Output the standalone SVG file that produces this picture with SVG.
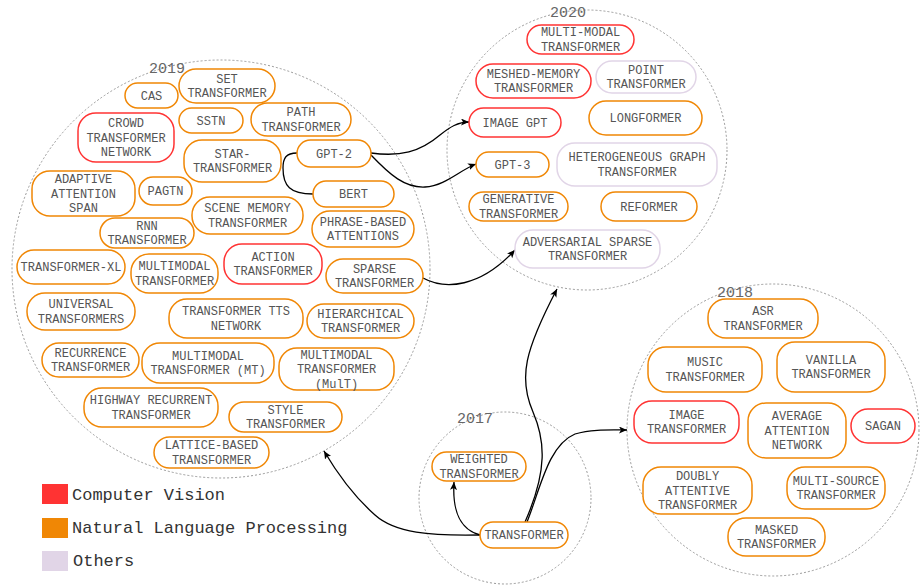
<svg xmlns="http://www.w3.org/2000/svg" width="923" height="585" viewBox="0 0 923 585">
<style>
.ring{fill:none;stroke:#9a9a9a;stroke-width:1;stroke-dasharray:2 2}
.yr{font-family:"Liberation Mono","DejaVu Sans Mono",monospace;font-size:15px;fill:#666}
.n rect{fill:#fff;stroke-width:1.5}
.o rect{stroke:#f08705}
.r rect{stroke:#ff3333}
.p rect{stroke:#e1d5e7}
.n text{font-family:"Liberation Mono","DejaVu Sans Mono",monospace;font-size:12px;fill:#555;text-anchor:middle}
.lg{font-family:"Liberation Mono","DejaVu Sans Mono",monospace;font-size:17px;fill:#333}
.e{fill:none;stroke:#000;stroke-width:1.3}
</style>
<defs>
<marker id="ah" markerUnits="userSpaceOnUse" markerWidth="9" markerHeight="8" refX="8" refY="3.5" orient="auto">
<path d="M0,0 L8,3.5 L0,7 L2,3.5 z" fill="#000"/>
</marker>
</defs>
<g id="years">
<circle class="ring" cx="221" cy="269" r="209"/>
<circle class="ring" cx="587" cy="150" r="140"/>
<circle class="ring" cx="773" cy="430" r="146"/>
<circle class="ring" cx="505" cy="498" r="86"/>
<text class="yr" x="149" y="73">2019</text>
<text class="yr" x="550" y="17">2020</text>
<text class="yr" x="717" y="297">2018</text>
<text class="yr" x="457" y="423">2017</text>
</g>
<g id="connectors">
<path class="e" d="M297,153 C286,153 283,158 283,168 C283,186 290,194 313,194"/>
<path class="e" d="M371,153 C400,157 420,152 440,135 C450,127 458,122 469,122" marker-end="url(#ah)"/>
<path class="e" d="M371,155 C390,175 405,188 425,187 C445,186 460,170 476,164" marker-end="url(#ah)"/>
<path class="e" d="M423,278 C445,290 480,288 515,250" marker-end="url(#ah)"/>
<path class="e" d="M480,535 C430,536 395,533 375,515 C358,500 340,478 324,451" marker-end="url(#ah)"/>
<path class="e" d="M480,535 C462,530 452,515 454,482" marker-end="url(#ah)"/>
<path class="e" d="M525,522 C548,470 545,440 533,412 C518,378 525,350 557,289" marker-end="url(#ah)"/>
<path class="e" d="M527,522 C540,490 548,445 575,434 C592,429 610,430 627,430" marker-end="url(#ah)"/>
</g>
<g id="set" class="n o"><rect x="179" y="69" width="96" height="34" rx="17"/><text x="227" y="82.75">SET</text><text x="227" y="97.25">TRANSFORMER</text></g>
<g id="cas" class="n o"><rect x="125" y="83" width="53" height="25" rx="12.5"/><text x="151.5" y="99.5">CAS</text></g>
<g id="sstn" class="n o"><rect x="179" y="108" width="64" height="25" rx="12.5"/><text x="211" y="124.5">SSTN</text></g>
<g id="path" class="n o"><rect x="251" y="103" width="100" height="33" rx="16.5"/><text x="301" y="116.25">PATH</text><text x="301" y="130.75">TRANSFORMER</text></g>
<g id="crowd" class="n r"><rect x="78" y="113" width="96" height="49" rx="18"/><text x="126" y="127">CROWD</text><text x="126" y="141.5">TRANSFORMER</text><text x="126" y="156">NETWORK</text></g>
<g id="star" class="n o"><rect x="184" y="140" width="97" height="42" rx="18"/><text x="232.5" y="157.75">STAR-</text><text x="232.5" y="172.25">TRANSFORMER</text></g>
<g id="gpt2" class="n o"><rect x="297" y="140" width="74" height="27" rx="13.5"/><text x="334" y="157.5">GPT-2</text></g>
<g id="bert" class="n o"><rect x="313" y="181" width="81" height="26" rx="13"/><text x="353.5" y="198">BERT</text></g>
<g id="adaptive" class="n o"><rect x="32" y="171" width="103" height="45" rx="18"/><text x="83.5" y="183">ADAPTIVE</text><text x="83.5" y="197.5">ATTENTION</text><text x="83.5" y="212">SPAN</text></g>
<g id="pagtn" class="n o"><rect x="139" y="177" width="53" height="28" rx="14"/><text x="165.5" y="195">PAGTN</text></g>
<g id="scene" class="n o"><rect x="192" y="197" width="111" height="37" rx="18"/><text x="247.5" y="212.25">SCENE MEMORY</text><text x="247.5" y="226.75">TRANSFORMER</text></g>
<g id="phrase" class="n o"><rect x="312" y="211" width="102" height="36" rx="18"/><text x="363" y="225.75">PHRASE-BASED</text><text x="363" y="240.25">ATTENTIONS</text></g>
<g id="rnn" class="n o"><rect x="100" y="218" width="94" height="30" rx="15"/><text x="147" y="229.75">RNN</text><text x="147" y="244.25">TRANSFORMER</text></g>
<g id="action" class="n r"><rect x="224" y="244" width="98" height="40" rx="18"/><text x="273" y="260.75">ACTION</text><text x="273" y="275.25">TRANSFORMER</text></g>
<g id="txl" class="n o"><rect x="17" y="250" width="108" height="34" rx="17"/><text x="71" y="271">TRANSFORMER-XL</text></g>
<g id="multimodal" class="n o"><rect x="131" y="254" width="87" height="39" rx="18"/><text x="174.5" y="270.25">MULTIMODAL</text><text x="174.5" y="284.75">TRANSFORMER</text></g>
<g id="sparse" class="n o"><rect x="326" y="259" width="97" height="34" rx="17"/><text x="374.5" y="272.75">SPARSE</text><text x="374.5" y="287.25">TRANSFORMER</text></g>
<g id="universal" class="n o"><rect x="27" y="293" width="108" height="37" rx="18"/><text x="81" y="308.25">UNIVERSAL</text><text x="81" y="322.75">TRANSFORMERS</text></g>
<g id="tts" class="n o"><rect x="169" y="299" width="134" height="39" rx="18"/><text x="236" y="315.25">TRANSFORMER TTS</text><text x="236" y="329.75">NETWORK</text></g>
<g id="hier" class="n o"><rect x="307" y="304" width="107" height="34" rx="17"/><text x="360.5" y="317.75">HIERARCHICAL</text><text x="360.5" y="332.25">TRANSFORMER</text></g>
<g id="recurrence" class="n o"><rect x="42" y="343" width="97" height="34" rx="17"/><text x="90.5" y="356.75">RECURRENCE</text><text x="90.5" y="371.25">TRANSFORMER</text></g>
<g id="mt" class="n o"><rect x="142" y="343" width="132" height="40" rx="18"/><text x="208" y="359.75">MULTIMODAL</text><text x="208" y="374.25">TRANSFORMER (MT)</text></g>
<g id="mult" class="n o"><rect x="279" y="348" width="115" height="42" rx="18"/><text x="336.5" y="358.5">MULTIMODAL</text><text x="336.5" y="373">TRANSFORMER</text><text x="336.5" y="387.5">(MulT)</text></g>
<g id="highway" class="n o"><rect x="84" y="388" width="134" height="39" rx="18"/><text x="151" y="404.25">HIGHWAY RECURRENT</text><text x="151" y="418.75">TRANSFORMER</text></g>
<g id="style" class="n o"><rect x="229" y="402" width="113" height="30" rx="15"/><text x="285.5" y="413.75">STYLE</text><text x="285.5" y="428.25">TRANSFORMER</text></g>
<g id="lattice" class="n o"><rect x="154" y="437" width="115" height="31" rx="15.5"/><text x="211.5" y="449.25">LATTICE-BASED</text><text x="211.5" y="463.75">TRANSFORMER</text></g>
<g id="mm2020" class="n r"><rect x="527" y="25" width="107" height="29" rx="14.5"/><text x="580.5" y="36.25">MULTI-MODAL</text><text x="580.5" y="50.75">TRANSFORMER</text></g>
<g id="meshed" class="n r"><rect x="476" y="64" width="115" height="34" rx="17"/><text x="533.5" y="77.75">MESHED-MEMORY</text><text x="533.5" y="92.25">TRANSFORMER</text></g>
<g id="point" class="n p"><rect x="596" y="61" width="100" height="32" rx="16"/><text x="646" y="73.75">POINT</text><text x="646" y="88.25">TRANSFORMER</text></g>
<g id="imagegpt" class="n r"><rect x="469" y="108" width="92" height="29" rx="14.5"/><text x="515" y="126.5">IMAGE GPT</text></g>
<g id="longformer" class="n o"><rect x="589" y="101" width="113" height="34" rx="17"/><text x="645.5" y="122">LONGFORMER</text></g>
<g id="gpt3" class="n o"><rect x="476" y="152" width="73" height="25" rx="12.5"/><text x="512.5" y="168.5">GPT-3</text></g>
<g id="hetero" class="n p"><rect x="557" y="143" width="160" height="43" rx="18"/><text x="637" y="161.25">HETEROGENEOUS GRAPH</text><text x="637" y="175.75">TRANSFORMER</text></g>
<g id="generative" class="n o"><rect x="469" y="192" width="99" height="29" rx="14.5"/><text x="518.5" y="203.25">GENERATIVE</text><text x="518.5" y="217.75">TRANSFORMER</text></g>
<g id="reformer" class="n o"><rect x="601" y="192" width="96" height="29" rx="14.5"/><text x="649" y="210.5">REFORMER</text></g>
<g id="adversarial" class="n p"><rect x="515" y="230" width="145" height="38" rx="18"/><text x="587.5" y="245.75">ADVERSARIAL SPARSE</text><text x="587.5" y="260.25">TRANSFORMER</text></g>
<g id="asr" class="n o"><rect x="708" y="299" width="110" height="39" rx="18"/><text x="763" y="315.25">ASR</text><text x="763" y="329.75">TRANSFORMER</text></g>
<g id="music" class="n o"><rect x="648" y="347" width="114" height="45" rx="18"/><text x="705" y="366.25">MUSIC</text><text x="705" y="380.75">TRANSFORMER</text></g>
<g id="vanilla" class="n o"><rect x="777" y="342" width="108" height="50" rx="18"/><text x="831" y="363.75">VANILLA</text><text x="831" y="378.25">TRANSFORMER</text></g>
<g id="image" class="n r"><rect x="634" y="401" width="105" height="42" rx="18"/><text x="686.5" y="418.75">IMAGE</text><text x="686.5" y="433.25">TRANSFORMER</text></g>
<g id="average" class="n o"><rect x="748" y="403" width="98" height="55" rx="18"/><text x="797" y="420">AVERAGE</text><text x="797" y="434.5">ATTENTION</text><text x="797" y="449">NETWORK</text></g>
<g id="sagan" class="n r"><rect x="851" y="409" width="64" height="34" rx="17"/><text x="883" y="430">SAGAN</text></g>
<g id="doubly" class="n o"><rect x="643" y="467" width="109" height="47" rx="18"/><text x="697.5" y="480">DOUBLY</text><text x="697.5" y="494.5">ATTENTIVE</text><text x="697.5" y="509">TRANSFORMER</text></g>
<g id="multisource" class="n o"><rect x="787" y="467" width="98" height="42" rx="18"/><text x="836" y="484.75">MULTI-SOURCE</text><text x="836" y="499.25">TRANSFORMER</text></g>
<g id="masked" class="n o"><rect x="728" y="518" width="97" height="38" rx="18"/><text x="776.5" y="533.75">MASKED</text><text x="776.5" y="548.25">TRANSFORMER</text></g>
<g id="weighted" class="n o"><rect x="432" y="452" width="94" height="29" rx="14.5"/><text x="479" y="463.25">WEIGHTED</text><text x="479" y="477.75">TRANSFORMER</text></g>
<g id="transformer" class="n o"><rect x="480" y="522" width="88" height="26" rx="13"/><text x="524" y="539">TRANSFORMER</text></g>
<g id="legend">
<rect x="42" y="484" width="26" height="20" fill="#ff3333"/>
<rect x="42" y="518" width="26" height="20" fill="#f08705"/>
<rect x="42" y="551" width="26" height="20" fill="#e1d5e7"/>
<text class="lg" x="72" y="500">Computer Vision</text>
<text class="lg" x="72" y="533">Natural Language Processing</text>
<text class="lg" x="73" y="566">Others</text>
</g>
</svg>
